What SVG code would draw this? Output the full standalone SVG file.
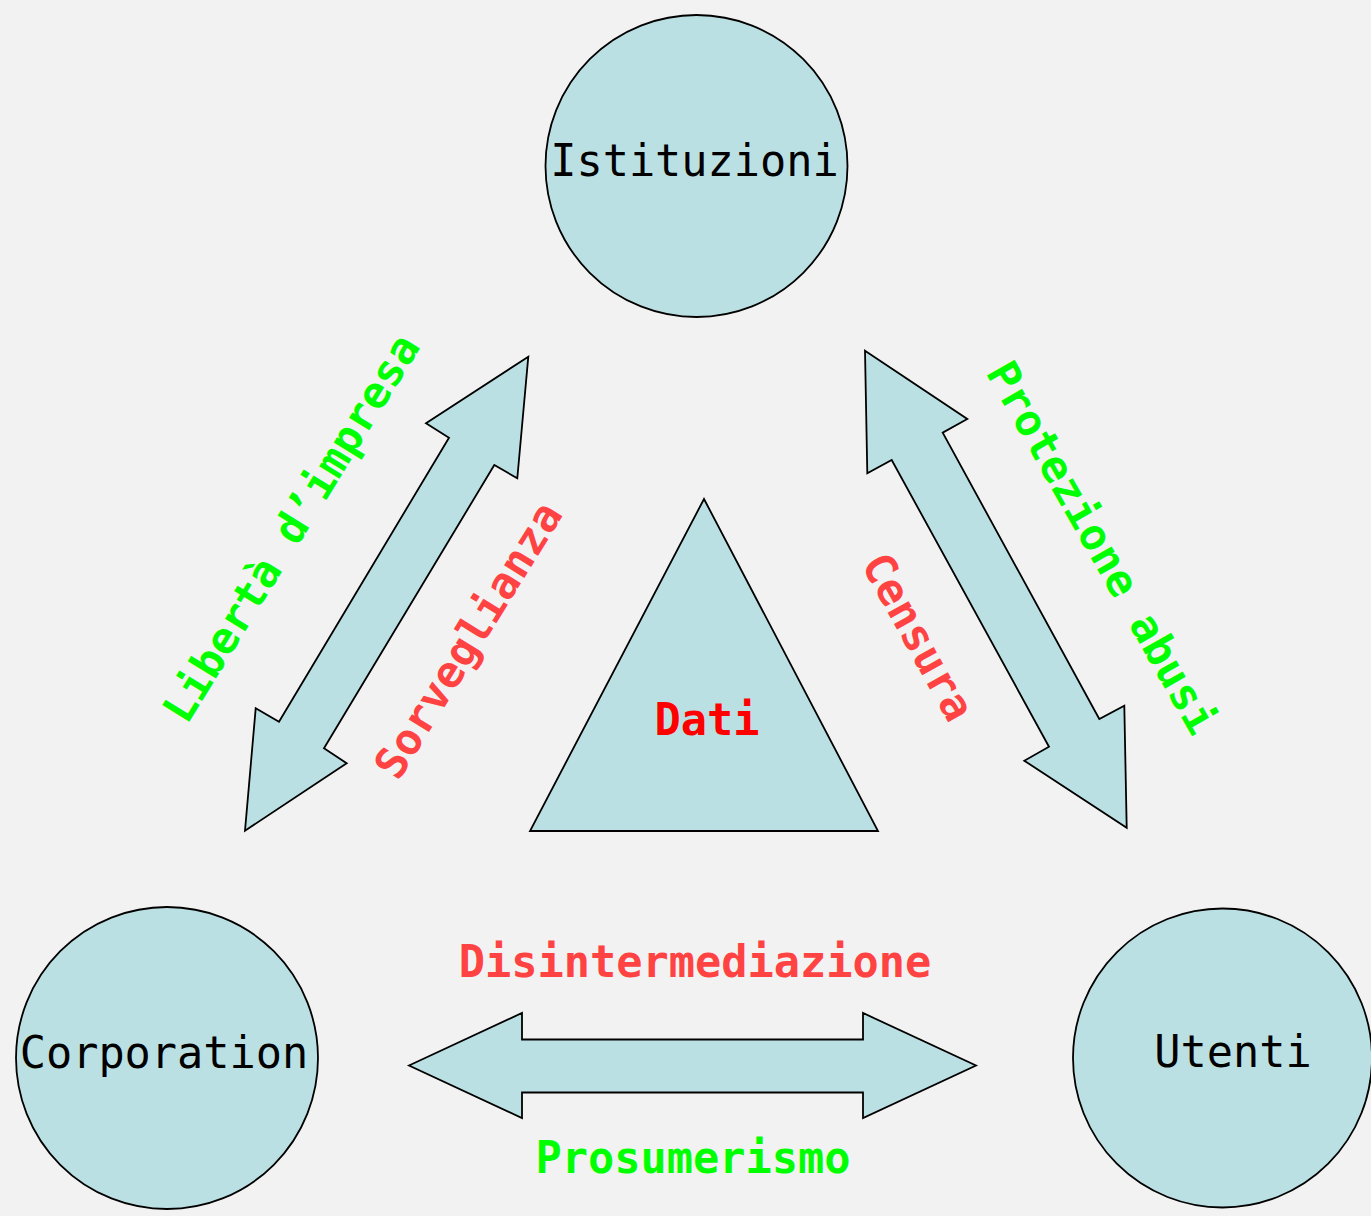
<svg xmlns="http://www.w3.org/2000/svg" width="1371" height="1216" viewBox="0 0 1371 1216">
<style>
.shape{fill:#bbe0e3;stroke:#000;stroke-width:1.8;stroke-linejoin:miter}
.t{font-family:"DejaVu Sans Mono","Liberation Mono",monospace;font-size:43.6px;text-anchor:middle}
.node{fill:#000}
.b{font-weight:bold}
.red{fill:#ff4343}
.green{fill:#00ff00}
.dati{fill:#ff0000}
</style>
<rect width="1371" height="1216" fill="#f2f2f2"/>
<g id="connectors">
<polygon id="arrow-istituzioni-corporation" class="shape" points="528.3,356.7 517.3,478.3 494.3,465 324,748.3 346.7,763.3 245,830.7 255.7,708.3 279,721.7 449,437.7 426,423.3"/>
<polygon id="arrow-istituzioni-utenti" class="shape" points="865,350.7 967.3,419 942.7,432.7 1099.3,719 1124.3,705.7 1126.7,827.7 1024.3,760.7 1049,746.7 891.7,460 867.3,473.3"/>
<polygon id="arrow-corporation-utenti" class="shape" points="409,1065.5 522,1013 522,1039.5 863,1039.5 863,1013 976,1065.5 863,1118 863,1092.5 522,1092.5 522,1118"/>
<text class="t b green" transform="translate(304,536) rotate(-58.3)">Libertà d’impresa</text>
<text class="t b red" transform="translate(481,648) rotate(-58.3)">Sorveglianza</text>
<text class="t b red" transform="translate(905,644) rotate(61)">Censura</text>
<text class="t b green" transform="translate(1089,555) rotate(60.4)">Protezione abusi</text>
<text class="t b red" x="695" y="977">Disintermediazione</text>
<text class="t b green" x="693" y="1173">Prosumerismo</text>
</g>
<g id="istituzioni">
<circle class="shape" cx="696.5" cy="166" r="151"/>
<text class="t node" x="694.5" y="176">Istituzioni</text>
</g>
<g id="corporation">
<circle class="shape" cx="167" cy="1058" r="151"/>
<text class="t node" x="164" y="1068">Corporation</text>
</g>
<g id="utenti">
<circle class="shape" cx="1222.5" cy="1058" r="149.5"/>
<text class="t node" x="1233" y="1067">Utenti</text>
</g>
<g id="dati">
<polygon class="shape" points="704,499 878,831 530,831"/>
<text class="t b dati" x="707" y="735">Dati</text>
</g>
</svg>
